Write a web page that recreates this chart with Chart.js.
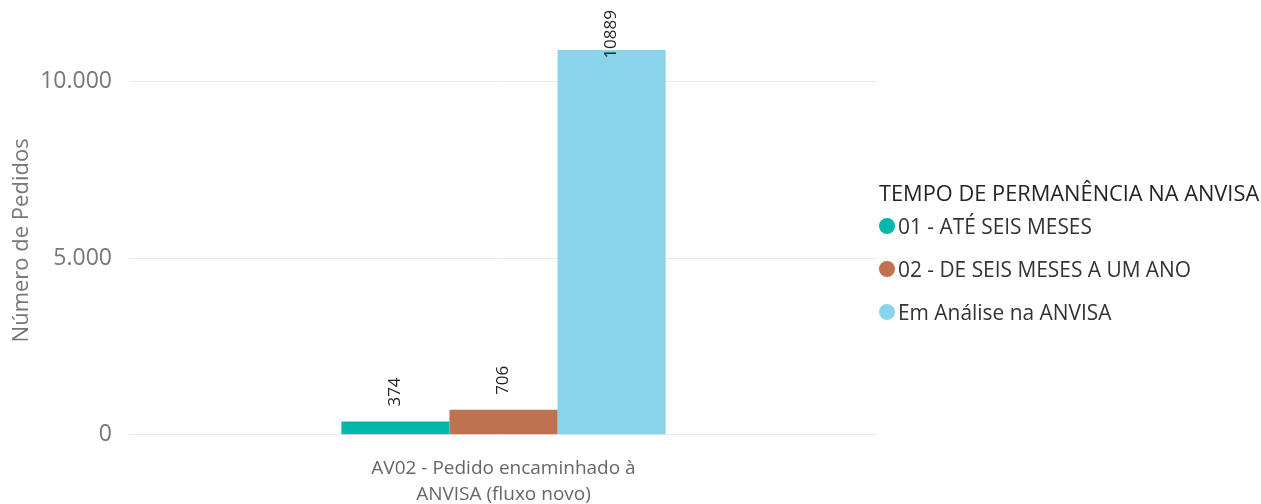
<!DOCTYPE html>
<html>
<head>
<meta charset="utf-8">
<script src="https://cdn.jsdelivr.net/npm/chart.js@4"></script>
<style>
  html, body { margin: 0; padding: 0; background: #fff; overflow: hidden; }
  #wrap { position: relative; width: 1261px; height: 520px; }
  #legenda { position: absolute; left: 879px; top: 178px; font-family: "Open Sans", sans-serif; color: #252423; white-space: nowrap; }
  #legenda .titulo { font-size: 21.8px; height: 33px; line-height: 30px; }
  #legenda .item { font-size: 20.9px; height: 43px; line-height: 30px; display: flex; align-items: flex-start; color: #333; }
  #legenda .bola { width: 16px; height: 16px; border-radius: 50%; margin: 7px 3px 0 0; }
</style>
</head>
<body>
<div id="wrap">
  <canvas id="myChart" width="1261" height="520"></canvas>
  <div id="legenda"></div>
</div>
<script>
const categorias = [["AV02 - Pedido encaminhado à", "ANVISA (fluxo novo)"]];
const series = ["01 - ATÉ SEIS MESES", "02 - DE SEIS MESES A UM ANO", "Em Análise na ANVISA"];
const valores = [[374], [706], [10889]];
const cores = ["#01B8AA", "#BF7150", "#8AD4EB"];
const yTicks = [0, 5000, 10000];
const tituloLegenda = "TEMPO DE PERMANÊNCIA NA ANVISA";

// legenda em html
const legenda = document.getElementById("legenda");
let html = `<div class="titulo">${tituloLegenda}</div>`;
series.forEach(function(nome, i) {
    html += `<div class="item"><span class="bola" style="background:${cores[i]}"></span>${nome}</div>`;
});
legenda.innerHTML = html;

// rotulos girados em cima das barras
const rotulos = {
    id: "rotulos",
    afterDatasetsDraw(chart) {
        const ctx = chart.ctx;
        ctx.save();
        ctx.font = "17px 'Open Sans', sans-serif";
        ctx.fillStyle = "#252423";
        ctx.textBaseline = "middle";
        ctx.textAlign = "left";
        chart.data.datasets.forEach(function(ds, i) {
            chart.getDatasetMeta(i).data.forEach(function(bar, j) {
                const txt = String(ds.data[j]);
                const w = ctx.measureText(txt).width;
                const y = Math.max(bar.y - 15, 10 + w);
                ctx.save();
                ctx.translate(bar.x, y);
                ctx.rotate(-Math.PI / 2);
                ctx.fillText(txt, 0, 0);
                ctx.restore();
            });
        });
        ctx.restore();
    }
};

const datasets = series.map(function(nome, i) {
    return {
        label: nome,
        data: valores[i],
        backgroundColor: cores[i],
        categoryPercentage: 0.434,
        barPercentage: 1.0
    };
});

new Chart(document.getElementById("myChart"), {
    type: "bar",
    data: { labels: categorias, datasets },
    plugins: [rotulos],
    options: {
        responsive: false,
        animation: false,
        layout: { padding: { left: 0, right: 384, top: 46, bottom: 0 } },
        plugins: { legend: { display: false }, tooltip: { enabled: false } },
        scales: {
            x: {
                grid: { display: false },
                border: { display: false },
                ticks: {
                    color: "#666",
                    padding: 12,
                    font: { family: "'Open Sans', sans-serif", size: 19, lineHeight: 1.4 }
                }
            },
            y: {
                min: 0,
                max: 11000,
                afterBuildTicks: function(axis) {
                    axis.ticks = yTicks.map(v => ({ value: v }));
                },
                afterFit: function(axis) {
                    axis.width = 130;
                },
                grid: { color: "#e9e9e9", drawTicks: false },
                border: { display: false },
                ticks: {
                    color: "#777",
                    padding: 18,
                    font: { family: "'Open Sans', sans-serif", size: 23 },
                    callback: v => v.toLocaleString("pt-BR")
                },
                title: {
                    display: true,
                    text: "Número de Pedidos",
                    color: "#777",
                    font: { family: "'Open Sans', sans-serif", size: 22 },
                    padding: { top: 9, bottom: 0 }
                }
            }
        }
    }
});
</script>
</body>
</html>
